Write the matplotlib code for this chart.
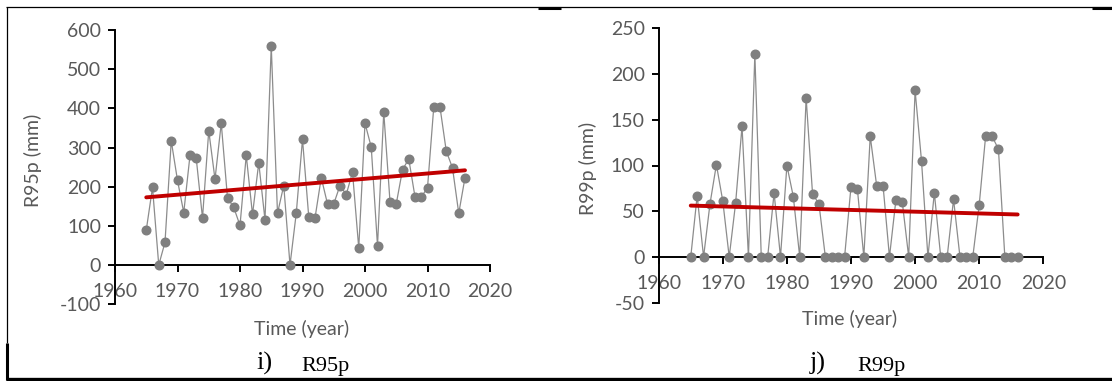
import numpy as np
import matplotlib.pyplot as plt
from matplotlib.lines import Line2D

plt.rcParams["axes.unicode_minus"] = False

years = list(range(1965, 2017))

r95p = [89, 198, 0, 58, 317, 216, 134, 280, 272, 120,
        343, 219, 362, 171, 147, 101, 280, 129, 261, 115,
        559, 132, 203, 0, 132, 321, 123, 120, 223, 156,
        156, 203, 180, 237, 43, 362, 301, 49, 390, 162,
        156, 243, 271, 174, 174, 197, 403, 403, 291, 248,
        132, 223]

r99p = [0, 67, 0, 58, 101, 61, 0, 59, 143, 0,
        222, 0, 0, 70, 0, 100, 66, 0, 174, 69,
        58, 0, 0, 0, 0, 77, 74, 0, 132, 78,
        78, 0, 62, 60, 0, 182, 105, 0, 70, 0,
        0, 63, 0, 0, 0, 57, 132, 132, 118, 0,
        0, 0]

W, H = 1112, 381
fig = plt.figure(figsize=(W / 100, H / 100), dpi=100)

tick_font = "Lato"
gray_txt = "#595959"
fs = 14


def draw_panel(rect, vals, ylim, yticks, ylabel, ylab_xy, xlab_xy):
    ax = fig.add_axes(rect)
    x = np.array(years)
    y = np.array(vals, dtype=float)
    ax.plot(x, y, color="#8c8c8c", lw=0.9, marker="o", ms=6.2,
            mfc="#7f7f7f", mec="#7f7f7f", zorder=3)
    k, b = np.polyfit(x, y, 1)
    ax.plot([x[0], x[-1]], [k * x[0] + b, k * x[-1] + b],
            color="#c00000", lw=2.8, zorder=4, solid_capstyle="round")
    ax.set_xlim(1960, 2020)
    ax.set_ylim(*ylim)
    ax.set_xticks(range(1960, 2021, 10))
    ax.set_yticks(yticks)
    for s in ("top", "right"):
        ax.spines[s].set_visible(False)
    ax.spines["bottom"].set_position(("data", 0))
    for s in ("left", "bottom"):
        ax.spines[s].set_linewidth(1.4)
        ax.spines[s].set_color("black")
    ax.tick_params(direction="out", length=5, width=1.4, colors="black",
                   labelcolor=gray_txt, labelsize=fs)
    ax.tick_params(axis="y", pad=5)
    ax.tick_params(axis="x", pad=8)
    for lab in ax.get_xticklabels() + ax.get_yticklabels():
        lab.set_family(tick_font)
    ax.patch.set_alpha(0)
    fig.text(ylab_xy[0] / W, 1 - ylab_xy[1] / H, ylabel, rotation=90,
             ha="center", va="center", color=gray_txt, fontsize=fs,
             family=tick_font)
    fig.text(xlab_xy[0] / W, 1 - xlab_xy[1] / H, "Time (year)",
             ha="center", va="center", color=gray_txt, fontsize=fs,
             family=tick_font)
    return ax


draw_panel([115 / W, 1 - 304.2 / H, 375 / W, 274.2 / H], r95p,
           (-100, 600), range(-100, 601, 100), "R95p (mm)",
           (33, 160), (302, 329))
draw_panel([658.7 / W, 1 - 302.7 / H, 384.6 / W, 274.4 / H], r99p,
           (-50, 250), range(-50, 251, 50), "R99p (mm)",
           (588, 168), (850, 319))

# captions
serif = "Liberation Serif"
fig.text(264 / W, 1 - 363 / H, "i)", ha="center", va="center",
         fontsize=19, family=serif)
fig.text(325 / W, 1 - 366 / H, "R95p", ha="center", va="center",
         fontsize=16, family=serif)
fig.text(818 / W, 1 - 363 / H, "j)", ha="center", va="center",
         fontsize=19, family=serif)
fig.text(881 / W, 1 - 366 / H, "R99p", ha="center", va="center",
         fontsize=16, family=serif)

# frame lines
def seg(x0, y0, x1, y1, lw):
    fig.add_artist(Line2D([x0 / W, x1 / W], [1 - y0 / H, 1 - y1 / H],
                          color="black", lw=lw, transform=fig.transFigure,
                          solid_capstyle="butt"))

seg(6, 7, 1112, 7, 0.9)
seg(538, 7.8, 561, 7.8, 2.2)
seg(1092, 7.8, 1112, 7.8, 2.2)
seg(6.5, 7, 6.5, 343, 0.9)
seg(7, 343, 7, 380, 2.2)
seg(6, 379, 1112, 379, 2.4)

fig.savefig("out.png", dpi=100)
